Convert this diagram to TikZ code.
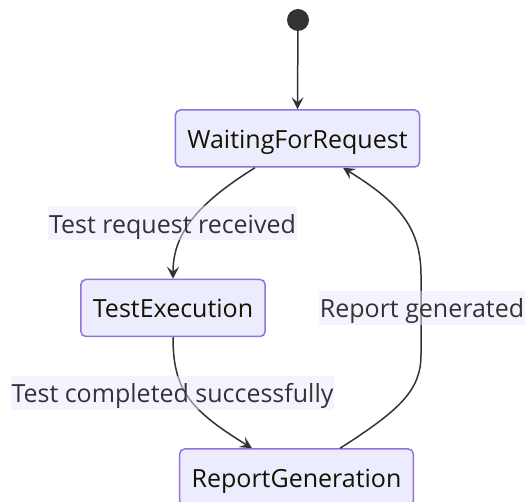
\documentclass[tikz,border=0pt]{standalone}
\usepackage{fontspec}
\setmainfont{Open Sans}
\usetikzlibrary{arrows.meta,calc}
\definecolor{boxfill}{HTML}{ECECFF}
\definecolor{boxdraw}{HTML}{9370DB}
\definecolor{edgecol}{HTML}{333333}
\definecolor{lblbg}{HTML}{EAEAFF}
\definecolor{boxtext}{HTML}{131300}
\begin{document}
\begin{tikzpicture}[x=1pt,y=-1pt,
  state/.style={draw=boxdraw, fill=boxfill, line width=1.5pt, rounded corners=5pt,
    minimum height=57pt, inner xsep=12pt, text=boxtext, font=\fontsize{25}{30}\selectfont,
    text height=26.7pt, text depth=7.3pt},
  lbl/.style={fill=lblbg, fill opacity=0.5, text opacity=1, text=edgecol,
    font=\fontsize{25}{30}\selectfont, inner xsep=1pt, inner ysep=0pt,
    text height=26.7pt, text depth=7.3pt},
  tr/.style={draw=edgecol, line width=1.5pt, -{Stealth[length=12pt,width=12pt,inset=5pt]}},
  startdot/.style={circle, fill=edgecol, minimum size=22pt, inner sep=0pt}]
\useasboundingbox (0,0) rectangle (525,502);
\node[startdot] (s) at (298,20) {};
\node[state] (w) at (297.5,138.5) {WaitingForRequest};
\node[state] (t) at (173,308) {TestExecution};
\node[state] (r) at (296.5,477.5) {ReportGeneration};
\draw[tr] (s) -- (w.north);
\draw[tr] ($(w.south)+(-42.5,0)$) .. controls (195,205) and (173,235) .. (t.north);
\draw[tr] (t.south) .. controls (173,390) and (190,410) .. ($(r.north)+(-44.5,0)$);
\draw[tr] ($(r.north)+(43.5,0)$) .. controls (400,410) and (421,390) .. (421,355)
  -- (421,275) .. controls (421,225) and (395,200) .. ($(w.south)+(45.5,0)$);
\node[lbl] (l1) at (172.5,223.5) {Test request received};
\node[lbl] (l2) at (172.5,393) {Test completed successfully};
\node[lbl] (l3) at (422,308) {Report generated};
\end{tikzpicture}
\end{document}
